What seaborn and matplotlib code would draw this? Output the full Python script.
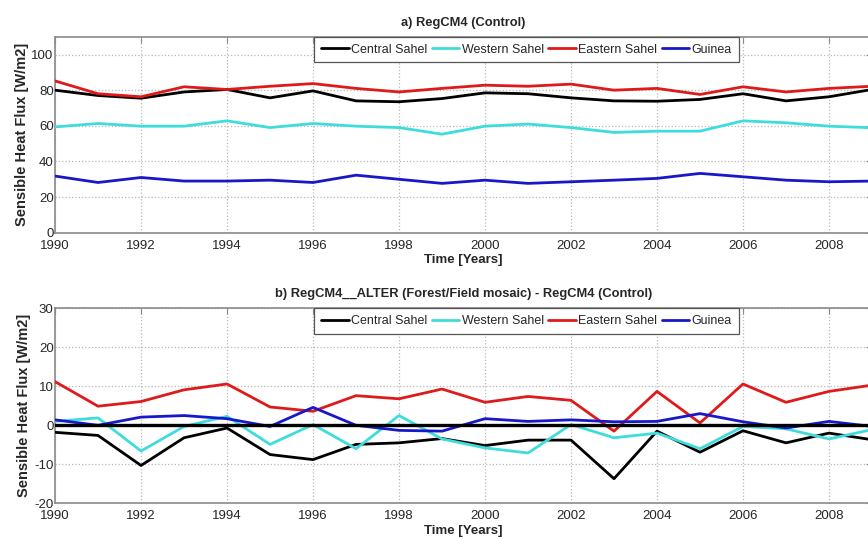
import numpy as np
import pandas as pd
import matplotlib
matplotlib.use("Agg")
import matplotlib.pyplot as plt
import seaborn as sns

years = list(range(1990, 2010))
regions = ["Central Sahel", "Western Sahel", "Eastern Sahel", "Guinea"]
colors = ["#000000", "#3fdcdc", "#de1a1a", "#1818c8"]

# a) Control run, sensible heat flux [W/m2]
ctrl_central = [80, 77, 75.5, 79, 80.4, 75.7, 79.6, 74, 73.5, 75.3,
                78.5, 78, 75.7, 74, 73.8, 74.8, 78, 74, 76.3, 80.4]
ctrl_western = [59.4, 61.3, 59.8, 59.8, 62.8, 59, 61.3, 59.8, 59, 55.3,
                59.8, 61, 59, 56.3, 57, 57, 62.8, 61.7, 59.8, 58.9]
ctrl_eastern = [85.2, 78, 76.3, 81.9, 80.4, 82.2, 83.7, 81, 79, 81,
                82.8, 82.2, 83.4, 80, 81, 77.6, 81.9, 79, 81, 82.2]
ctrl_guinea = [31.8, 28.2, 31, 29, 29, 29.5, 28.2, 32.3, 30, 27.7,
               29.5, 27.7, 28.6, 29.5, 30.5, 33.3, 31.4, 29.5, 28.6, 29]

# b) ALTER minus Control
diff_central = [-1.8, -2.6, -10.3, -3.2, -0.7, -7.5, -8.8, -4.9, -4.5, -3.4,
                -5.2, -3.8, -3.8, -13.7, -1.5, -6.9, -1.4, -4.5, -2.0, -3.7]
diff_western = [1.0, 1.9, -6.6, -0.3, 2.3, -4.9, 0.2, -6.0, 2.5, -3.5,
                -5.8, -7.1, 0.2, -3.2, -2.0, -6.0, -0.3, -0.9, -3.5, -1.1]
diff_eastern = [11.2, 4.9, 6.1, 9.1, 10.6, 4.7, 3.6, 7.6, 6.8, 9.3,
                5.9, 7.4, 6.4, -1.5, 8.7, 0.6, 10.6, 5.9, 8.7, 10.3]
diff_guinea = [1.4, 0.0, 2.1, 2.5, 1.7, -0.3, 4.6, 0.0, -1.3, -1.5,
               1.7, 1.0, 1.4, 0.9, 1.0, 3.0, 0.9, -0.7, 1.0, -0.3]

ctrl_series = [ctrl_central, ctrl_western, ctrl_eastern, ctrl_guinea]
diff_series = [diff_central, diff_western, diff_eastern, diff_guinea]


def long_frame(series):
    rows = []
    for name, vals in zip(regions, series):
        for y, v in zip(years, vals):
            rows.append({"Year": y, "Region": name, "Flux": v})
    return pd.DataFrame(rows)


sns.set_style("white")
plt.rcParams["font.family"] = ["Liberation Sans", "DejaVu Sans"]
plt.rcParams["axes.unicode_minus"] = False
plt.rcParams["xtick.direction"] = "in"
plt.rcParams["ytick.direction"] = "in"

fig = plt.figure(figsize=(8.68, 5.40), dpi=100)
ax_top = fig.add_axes([0.0634, 0.569, 0.9412, 0.363])
ax_bot = fig.add_axes([0.0634, 0.068, 0.9412, 0.361])

panels = [
    (ax_top, ctrl_series, "a) RegCM4 (Control)", (0, 110), np.arange(0, 101, 20)),
    (ax_bot, diff_series, "b) RegCM4__ALTER (Forest/Field mosaic) - RegCM4 (Control)",
     (-20, 30), np.arange(-20, 31, 10)),
]

for ax, series, title, ylim, yticks in panels:
    df = long_frame(series)
    sns.lineplot(data=df, x="Year", y="Flux", hue="Region", hue_order=regions,
                 palette=colors, linewidth=2.0, ax=ax, legend=False, zorder=3)
    ax.set_xlim(1990, 2009)
    ax.set_ylim(*ylim)
    ax.set_xticks(range(1990, 2010, 2))
    ax.set_yticks(yticks)
    ax.grid(True, color="#b8b8b8", linestyle=":", linewidth=0.9)
    ax.set_axisbelow(True)
    for sp in ax.spines.values():
        sp.set_color("#8a8a8a")
        sp.set_linewidth(1.2)
    ax.tick_params(axis="both", labelsize=9.5, length=4, color="#8a8a8a",
                   top=True, right=True)
    ax.tick_params(axis="x", pad=5)
    ax.tick_params(axis="y", pad=1)
    ax.set_title(title, fontsize=9.3, fontweight="bold", pad=8)
    ax.set_xlabel("Time [Years]", fontsize=9.5, fontweight="bold", labelpad=2)
    ax.set_ylabel("Sensible Heat Flux [W/m2]", fontsize=10.5, fontweight="bold",
                  labelpad=2)
    handles = [plt.Line2D([], [], color=c, linewidth=2.0) for c in colors]
    leg = ax.legend(handles, regions, ncol=4, loc="upper right",
                    bbox_to_anchor=(0.837, 1.0), fontsize=9.0, frameon=True,
                    fancybox=False, edgecolor="#555555", framealpha=1,
                    handlelength=2.2, handletextpad=0.2, columnspacing=0.35,
                    borderpad=0.55, borderaxespad=0.0)
    leg.get_frame().set_linewidth(0.9)

ax_bot.axhline(0, color="black", linewidth=2.4, zorder=4)

fig.savefig("out.png", dpi=100)
